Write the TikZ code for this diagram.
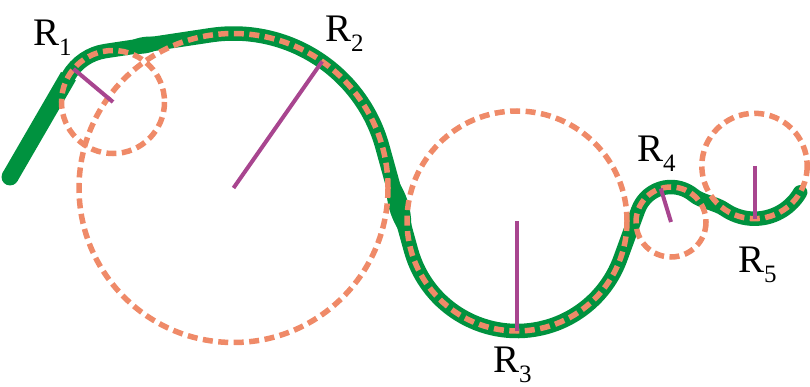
\documentclass[tikz,border=0pt]{standalone}
\usepackage{fontspec}
\setmainfont{Liberation Serif}
\usetikzlibrary{calc}
\definecolor{curvegreen}{RGB}{0,146,63}
\definecolor{circorange}{RGB}{239,138,104}
\definecolor{radpurple}{RGB}{168,69,143}
\begin{document}
\begin{tikzpicture}[x=1pt,y=-1pt,
  curve/.style={draw=curvegreen,line width=14.5pt,line cap=round,line join=round},
  osc/.style={draw=circorange,line width=5.5pt,dash pattern=on 10pt off 5.5pt},
  radln/.style={draw=radpurple,line width=4pt},
  lab/.style={anchor=base west,inner sep=0pt,font=\fontsize{39}{39}\selectfont}]
\useasboundingbox (0,0) rectangle (810,387);
% centres of the osculating circles
\coordinate (c1) at (113,102);
\coordinate (c2) at (233.5,188);
\coordinate (c3) at (517,221);
\coordinate (c4) at (671,222);
\coordinate (c5) at (754.5,166);
% points of the curve
\coordinate (p0) at (10,177);
\coordinate (a1) at ($(c1)+(210.1:51.5)$);
\coordinate (q1) at ($(c1)+(261.41:51.5)$);
\coordinate (a2) at ($(c2)+(261.41:154.5)$);
\coordinate (q2) at ($(c2)+(344.58:154.5)$);
\coordinate (a3) at ($(c3)+(164.58:110)$);
\coordinate (a4) at ($(c4)+(200.07:35)$);
\coordinate (a5) at ($(c5)+(125:52.7)$);
% the green curve
\draw[curve] (p0) -- (a1)
  arc[start angle=210.1,end angle=261.41,radius=51.5] -- (a2)
  arc[start angle=261.41,end angle=344.58,radius=154.5] -- (a3)
  arc[start angle=164.58,end angle=20.07,radius=110] -- (a4)
  arc[start angle=200.07,end angle=310,radius=35]
  .. controls (701.2,201.6) and (716.1,203.5) .. (a5)
  arc[start angle=125,end angle=30,radius=52.7];
% thicker brush parts
\draw[curvegreen,line width=17pt] (p0) -- (a1);
\fill[curvegreen] (p0) circle[radius=8.5];
\fill[curvegreen] ($(q1)!0.12!(a2)$) to[bend left=32] ($(q1)!0.62!(a2)$)
  to[bend left=32] ($(q1)!0.12!(a2)$);
\fill[curvegreen] ($(q2)!0.2!(a3)$) to[bend left=25] ($(q2)!0.95!(a3)$)
  to[bend left=25] ($(q2)!0.2!(a3)$);
% dashed circles
\draw[osc] (c1) circle[radius=51.5];
\draw[osc] (c2) circle[radius=154.5];
\draw[osc] (c3) circle[radius=110];
\draw[osc] (c4) circle[radius=35];
\draw[osc] (c5) circle[radius=52.7];
% radii
\coordinate (t1) at ($(c1)+(220:51.5)$);
\coordinate (t2) at ($(c2)+(305:154.5)$);
\coordinate (t3) at ($(c3)+(90:110)$);
\coordinate (t4) at ($(c4)+(253:35)$);
\coordinate (t5) at ($(c5)+(90:52.7)$);
\draw[radln] (c1) -- (t1);
\draw[radln] (c2) -- (t2);
\draw[radln] (c3) -- (t3);
\draw[radln] (c4) -- (t4);
\draw[radln] (c5) -- (t5);
% labels
\node[lab] (l1) at (33,46) {R\raisebox{-10pt}{\fontsize{25}{25}\selectfont 1}};
\node[lab] (l2) at (325,42) {R\raisebox{-10pt}{\fontsize{25}{25}\selectfont 2}};
\node[lab] (l3) at (493,372) {R\raisebox{-10pt}{\fontsize{25}{25}\selectfont 3}};
\node[lab] (l4) at (637,162) {R\raisebox{-10pt}{\fontsize{25}{25}\selectfont 4}};
\node[lab] (l5) at (738,272) {R\raisebox{-10pt}{\fontsize{25}{25}\selectfont 5}};
\end{tikzpicture}
\end{document}
